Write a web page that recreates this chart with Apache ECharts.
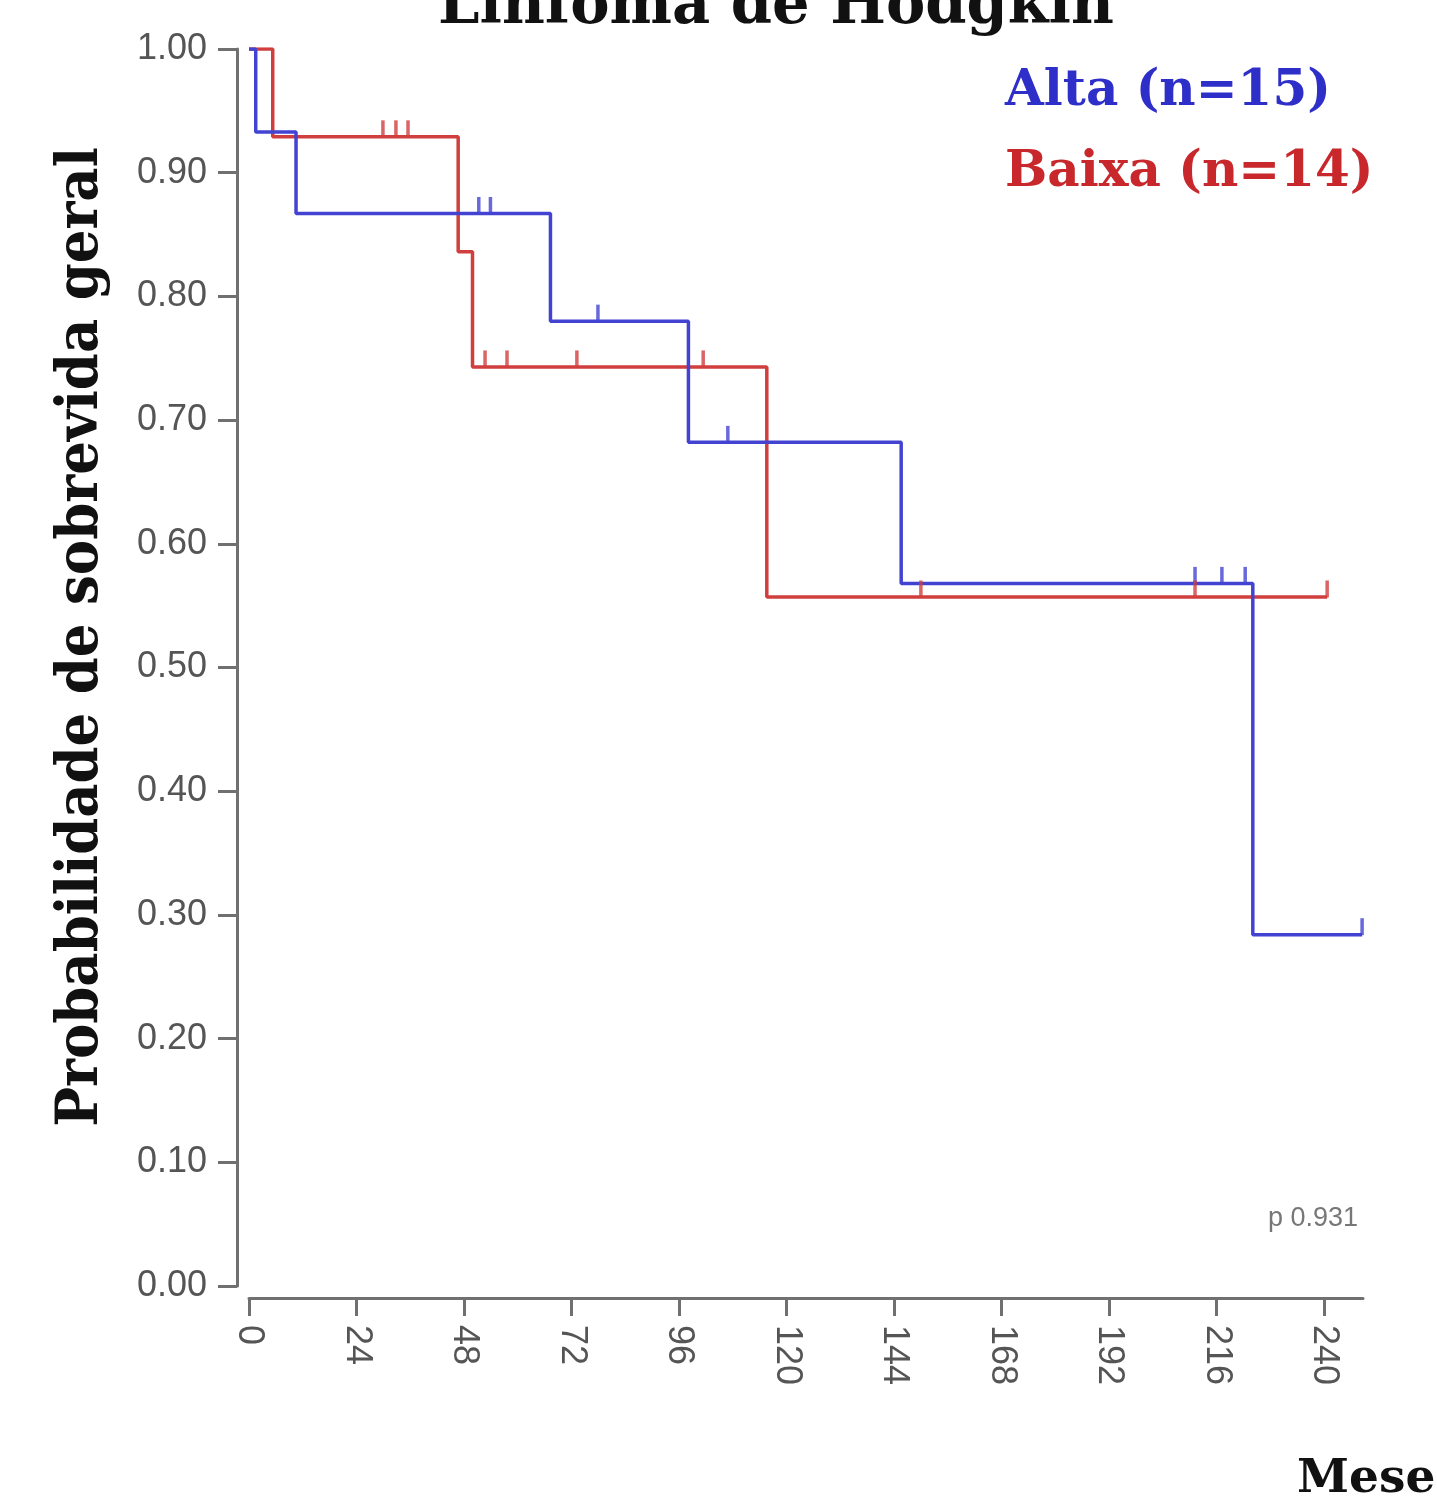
<!DOCTYPE html>
<html>
<head>
<meta charset="utf-8">
<script src="https://cdn.jsdelivr.net/npm/echarts@6/dist/echarts.min.js"></script>
<style>
html,body{margin:0;padding:0;background:#fff;}
#chart{width:1437px;height:1498px;}
</style>
</head>
<body>
<div id="chart"></div>
<script>
// ---- data ----
const xTicks = [0, 24, 48, 72, 96, 120, 144, 168, 192, 216, 240];
const yTicks = [0, 0.1, 0.2, 0.3, 0.4, 0.5, 0.6, 0.7, 0.8, 0.9, 1.0];

// Alta (n=15) – blue
const altaTimes = [0, 1.5, 10.5, 67.3, 98.1, 145.6, 224.1, 248.5];
const altaSurv  = [1.0, 0.933, 0.867, 0.780, 0.682, 0.568, 0.284, 0.284];
const altaCensorTimes = [51.3, 53.9, 77.9, 106.9, 211.2, 217.2, 222.4, 248.5];
const altaCensorSurv  = [0.867, 0.867, 0.780, 0.682, 0.568, 0.568, 0.568, 0.284];

// Baixa (n=14) – red
const baixaTimes = [0, 5.3, 46.7, 49.9, 115.6, 240.7];
const baixaSurv  = [1.0, 0.929, 0.836, 0.743, 0.557, 0.557];
const baixaCensorTimes = [29.9, 32.8, 35.5, 52.7, 57.6, 73.2, 101.4, 150.0, 211.2, 240.7];
const baixaCensorSurv  = [0.929, 0.929, 0.929, 0.743, 0.743, 0.743, 0.743, 0.557, 0.557, 0.557];

const titleText = 'Linfoma de Hodgkin';
const yTitle = 'Probabilidade de sobrevida geral';
const xTitle = 'Meses';
const legendAlta = 'Alta (n=15)';
const legendBaixa = 'Baixa (n=14)';
const pText = 'p 0.931';

const blue = '#4343d2';
const red = '#d03e3e';
const blueText = '#2e2ec8';
const redText = '#c8282c';
const axisGray = '#707070';

const chart = echarts.init(document.getElementById('chart'), null, {renderer: 'canvas'});

function pairs(xs, ys) { return xs.map((x, i) => [x, ys[i]]); }

const option = {
  backgroundColor: '#ffffff',
  animation: false,
  grid: {left: 249, right: 74, top: 49, bottom: 212},
  xAxis: {
    type: 'value', min: 0, max: 248.7, offset: 12,
    axisLine: {onZero: false, lineStyle: {color: axisGray, width: 3}},
    axisTick: {length: 18, lineStyle: {color: axisGray, width: 3}, customValues: xTicks},
    axisLabel: {customValues: xTicks, rotate: -90, margin: 27, fontFamily: 'Liberation Sans', fontSize: 36, color: '#555'},
    splitLine: {show: false}
  },
  yAxis: {
    type: 'value', min: 0, max: 1, interval: 0.1, offset: 12,
    axisLine: {show: true, onZero: false, lineStyle: {color: axisGray, width: 3}},
    axisTick: {show: true, length: 19, lineStyle: {color: axisGray, width: 3}},
    axisLabel: {margin: 30, fontFamily: 'Liberation Sans', fontSize: 36, color: '#555',
      formatter: v => v.toFixed(2)},
    splitLine: {show: false}
  },
  series: [
    {type: 'line', name: legendAlta, step: 'end', data: pairs(altaTimes, altaSurv), symbol: 'none',
      lineStyle: {color: blue, width: 3.5}, z: 3},
    {type: 'line', name: legendBaixa, step: 'end', data: pairs(baixaTimes, baixaSurv), symbol: 'none',
      lineStyle: {color: red, width: 3.5}, z: 2},
    {type: 'scatter', data: pairs(altaCensorTimes, altaCensorSurv), symbol: 'rect', symbolSize: [3.5, 17],
      symbolOffset: [0, -8], itemStyle: {color: blue}, z: 4},
    {type: 'scatter', data: pairs(baixaCensorTimes, baixaCensorSurv), symbol: 'rect', symbolSize: [3.5, 17],
      symbolOffset: [0, -8], itemStyle: {color: red}, z: 4}
  ],
  graphic: [
    {type: 'text', x: 776, y: 8, style: {text: titleText, fontFamily: 'DejaVu Serif', fontWeight: 'bold',
      fontSize: 59, fill: '#111', align: 'center', verticalAlign: 'middle'}},
    {type: 'text', x: 1005, y: 92, style: {text: legendAlta, fontFamily: 'DejaVu Serif', fontWeight: 'bold',
      fontSize: 50, fill: blueText, align: 'left', verticalAlign: 'middle'}},
    {type: 'text', x: 1005, y: 173, style: {text: legendBaixa, fontFamily: 'DejaVu Serif', fontWeight: 'bold',
      fontSize: 50, fill: redText, align: 'left', verticalAlign: 'middle'}},
    {type: 'text', x: 82, y: 637, rotation: Math.PI / 2, scaleY: 1.1,
      style: {text: yTitle, fontFamily: 'DejaVu Serif', fontWeight: 'bold', fontSize: 53, fill: '#111',
        align: 'center', verticalAlign: 'middle'}},
    {type: 'text', x: 1297, y: 1480, style: {text: xTitle, fontFamily: 'DejaVu Serif', fontWeight: 'bold',
      fontSize: 47, fill: '#111', align: 'left', verticalAlign: 'middle'}},
    {type: 'text', x: 1358, y: 1219, style: {text: pText, fontFamily: 'Liberation Sans', fontSize: 27,
      fill: '#777', align: 'right', verticalAlign: 'middle'}}
  ]
};
chart.setOption(option);
</script>
</body>
</html>
